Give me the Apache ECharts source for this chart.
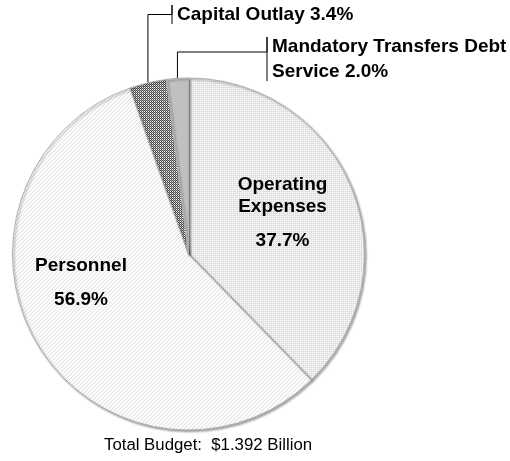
<!DOCTYPE html>
<html><head><meta charset="utf-8">
<script src="https://cdn.jsdelivr.net/npm/echarts@6/dist/echarts.min.js"></script>
<style>html,body{margin:0;padding:0;background:#fff}#c{width:510px;height:461px}</style>
</head><body><div id="c"></div>
<script>
// ---- data ----
const categories = ['Operating Expenses', 'Personnel', 'Capital Outlay', 'Mandatory Transfers Debt Service'];
const labelNames = ['Operating\nExpenses', 'Personnel', 'Capital Outlay', 'Mandatory Transfers Debt\nService'];
const shares = [37.7, 56.9, 3.4, 2.0];
const footerText = 'Total Budget:  $1.392 Billion';

// ---- fill patterns ----
function pattern(size, fn) {
  const c = document.createElement('canvas');
  c.width = size; c.height = size;
  const g = c.getContext('2d');
  for (let y = 0; y < size; y++) for (let x = 0; x < size; x++) {
    g.fillStyle = fn(x, y); g.fillRect(x, y, 1, 1);
  }
  return { image: c, repeat: 'repeat' };
}
const fills = [
  pattern(2, (x, y) => (x === 0 && y === 0) ? '#ffffff' : '#e2e2e2'),
  pattern(4, (x, y) => ((x + y) % 4 === 0) ? '#e0e0e0' : '#fcfcfc'),
  pattern(4, (x, y) => ((x + y) % 2 === 0) ? '#4a4a4a' : ((x % 2 === 0) ? '#ffffff' : '#a0a0a0')),
  '#c0c0c0'
];

// label placement: [x, y, align, leaderYOffset]
const labelPos = [
  [282.5, 219, 'center'],
  [81, 289, 'center'],
  [177, 14.5, 'left', 0],
  [272, 59, 'left', -7]
];

const chart = echarts.init(document.getElementById('c'));
const font = 'Liberation Sans, Arial, Helvetica, sans-serif';
const fs = 19;
chart.setOption({
  animation: false,
  backgroundColor: '#ffffff',
  title: {
    text: footerText,
    left: 104, top: 436.5, padding: 0,
    textStyle: { fontFamily: font, fontSize: 16.8, fontWeight: 'normal', color: '#000' }
  },
  series: [{
    type: 'pie',
    center: [188.5, 254],
    radius: [0, 176],
    startAngle: 90,
    clockwise: true,
    avoidLabelOverlap: false,
    itemStyle: {
      borderColor: '#b0b0b0', borderWidth: 1,
      shadowColor: 'rgba(0,0,0,0.35)', shadowBlur: 2, shadowOffsetX: 1.5, shadowOffsetY: 1.5
    },
    label: {
      fontFamily: font, fontWeight: 'bold', color: '#000',
      formatter: function (p) {
        const i = p.dataIndex;
        const lines = labelNames[i].split('\n');
        const pct = p.value.toFixed(1) + '%';
        if (i < 2) return lines.map(s => '{t|' + s + '}').join('\n') + '\n{p|' + pct + '}';
        lines[lines.length - 1] += ' ' + pct;
        return lines.map(s => '{o|' + s + '}').join('\n');
      },
      rich: {
        t: { fontFamily: font, fontWeight: 'bold', fontSize: fs, lineHeight: 22, color: '#000', align: 'center' },
        p: { fontFamily: font, fontWeight: 'bold', fontSize: fs, lineHeight: 46, color: '#000', align: 'center' },
        o: { fontFamily: font, fontWeight: 'bold', fontSize: fs, lineHeight: 25, color: '#000', align: 'left' }
      }
    },
    labelLine: { show: true, lineStyle: { color: '#000', width: 1 } },
    labelLayout: function (params) {
      const i = params.dataIndex;
      const pos = labelPos[i];
      const out = { x: pos[0], y: pos[1], align: pos[2], verticalAlign: 'middle' };
      if (i >= 2 && params.labelLinePoints) {
        const s = params.labelLinePoints[0];
        const h = params.labelRect.height;
        const bx = pos[0] - 5;
        const ly = pos[1] + pos[3];
        out.labelLinePoints = [
          [s[0], s[1]], [s[0], ly], [bx, ly],
          [bx, pos[1] - h / 2], [bx, pos[1] + h / 2]
        ];
      }
      return out;
    },
    data: categories.map((name, i) => ({
      name: name,
      value: shares[i],
      itemStyle: { color: fills[i] },
      label: { position: i < 2 ? 'inside' : 'outside' },
      labelLine: { show: i >= 2, length: 10, length2: 10 }
    }))
  }]
});
</script>
</body></html>
